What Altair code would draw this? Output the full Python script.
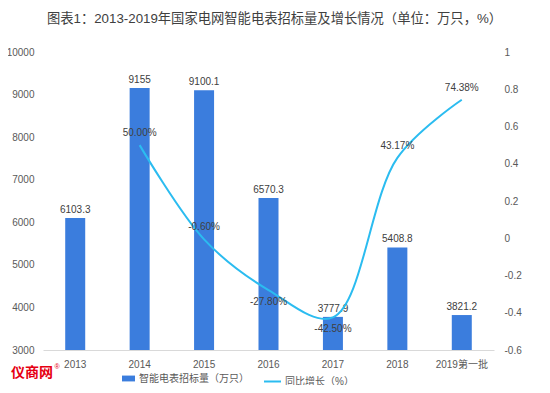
import altair as alt
import pandas as pd

years = ["2013", "2014", "2015", "2016", "2017", "2018", "2019第一批"]
volume = [6103.3, 9155, 9100.1, 6570.3, 3777.9, 5408.8, 3821.2]
volume_labels = ["6103.3", "9155", "9100.1", "6570.3", "3777.9", "5408.8", "3821.2"]
growth = [None, 0.50, -0.006, -0.278, -0.425, 0.4317, 0.7438]
growth_labels = ["", "50.00%", "-0.60%", "-27.80%", "-42.50%", "43.17%", "74.38%"]
left_ticks = [3000, 4000, 5000, 6000, 7000, 8000, 9000, 10000]
right_ticks = [-0.6, -0.4, -0.2, 0, 0.2, 0.4, 0.6, 0.8, 1]
series_bar = "智能电表招标量（万只）"
series_line = "同比增长（%）"
title_text = "图表1：2013-2019年国家电网智能电表招标量及增长情况（单位：万只，%）"
logo_text = ["仪商网"]
logo_mark = ["®"]

BAR = "#3b7ddd"
LINE = "#2bbcf0"
TXT = "#404040"
LAB = "#595959"
FONT = "Liberation Sans, Noto Sans CJK SC"

df = pd.DataFrame({
    "year": years,
    "volume": volume,
    "vlabel": volume_labels,
    "growth": growth,
    "glabel": growth_labels,
})
df["bar_series"] = series_bar
df["line_series"] = series_line

x = alt.X(
    "year:N", sort=years, title=None,
    scale=alt.Scale(paddingInner=0, paddingOuter=0),
    axis=alt.Axis(labelAngle=0, ticks=False, domainColor="#d9d9d9", labelPadding=9,
                  labelFontSize=10, labelColor=LAB, labelFont=FONT),
)
y_left = alt.Y(
    "volume:Q", title=None,
    scale=alt.Scale(domain=[3000, 10000], zero=False, nice=False),
    axis=alt.Axis(values=left_ticks, format="d", grid=False, domain=False, ticks=False,
                  labelFontSize=10, labelColor=LAB, labelPadding=9, labelFont=FONT),
)
y_right = alt.Y(
    "growth:Q", title=None,
    scale=alt.Scale(domain=[-0.6, 1], zero=False, nice=False),
    axis=alt.Axis(orient="right", values=right_ticks, grid=False, domain=False, ticks=False,
                  labelExpr="replace(format(datum.value, '~g'), '\u2212', '-')",
                  labelFontSize=10, labelColor=LAB, labelPadding=10, labelFont=FONT),
)

base = alt.Chart(df)

bars = base.mark_bar(size=20).encode(
    x=x, y=y_left, y2=alt.datum(left_ticks[0]),
    color=alt.Color("bar_series:N", scale=alt.Scale(range=[BAR]),
                    legend=alt.Legend(title=None, orient="none", legendX=79, legendY=320,
                                      symbolType="M-1,-0.45H1V0.45H-1Z", symbolSize=169,
                                      symbolStrokeWidth=0, labelFontSize=10, labelColor=LAB,
                                      labelFont=FONT, labelOffset=4)),
)
bar_text = base.mark_text(dy=-8, fontSize=10, color=TXT, font=FONT).encode(
    x=x, y=y_left, text="vlabel:N"
)
bar_layer = alt.layer(bars, bar_text)

line = base.mark_line(interpolate="catmull-rom", strokeWidth=2).encode(
    x=x, y=y_right,
    stroke=alt.Stroke("line_series:N", scale=alt.Scale(range=[LINE]),
                      legend=alt.Legend(title=None, orient="none", legendX=220, legendY=320,
                                        symbolType="stroke", symbolSize=289,
                                        symbolStrokeWidth=2, labelFontSize=10, labelColor=LAB,
                                        labelFont=FONT, labelOffset=3)),
)
text_up = base.transform_filter("isValid(datum.growth) && datum.growth >= -0.1").mark_text(
    dy=-12, fontSize=10, color=TXT, font=FONT).encode(x=x, y=y_right, text="glabel:N")
text_down = base.transform_filter("isValid(datum.growth) && datum.growth < -0.1").mark_text(
    dy=12, fontSize=10, color=TXT, font=FONT).encode(x=x, y=y_right, text="glabel:N")
line_layer = alt.layer(line, text_up, text_down)

logo = alt.Chart(pd.DataFrame({"t": logo_text})).mark_text(
    fontSize=14, fontWeight="bold", color="#e60012", font="Noto Sans CJK SC"
).encode(text="t:N", x=alt.value(-11), y=alt.value(321))
logo_r = alt.Chart(pd.DataFrame({"t": logo_mark})).mark_text(
    fontSize=7, color="#e60012", font=FONT
).encode(text="t:N", x=alt.value(14), y=alt.value(315))

chart = alt.layer(bar_layer, line_layer, logo, logo_r).resolve_scale(y="independent").properties(
    width=451, height=298,
    autosize=alt.AutoSizeParams(type="none"),
    padding={"left": 35, "top": 44, "right": 44, "bottom": 35},
    title=alt.Title(title_text, fontSize=13.3, color=TXT, fontWeight="normal",
                    anchor="middle", offset=22, dx=6, font=FONT),
).configure_view(stroke=None)

chart.save("out.html", embed_options={"renderer": "svg", "actions": False})
